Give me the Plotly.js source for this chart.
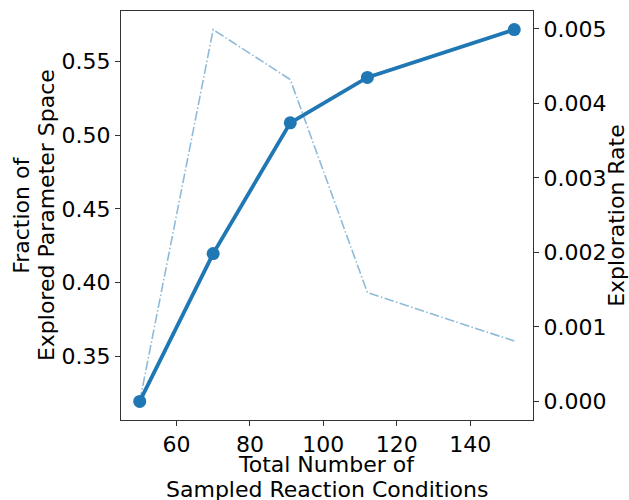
<!DOCTYPE html>
<html>
<head>
<meta charset="utf-8">
<script src="https://cdn.plot.ly/plotly-3.0.1.min.js"></script>
<style>html,body{margin:0;padding:0;background:#fff;}#chart{width:629px;height:500px;}</style>
</head>
<body>
<div id="chart"></div>
<script>
const sampledConditions = [50, 70, 91, 112, 152];
const exploredFraction = [0.3195, 0.4197, 0.5083, 0.5391, 0.5715];
const explorationRate = [0.0, 0.00499, 0.00432, 0.00146, 0.00081];
const xTicks = [60, 80, 100, 120, 140];
const yTicks = [0.35, 0.40, 0.45, 0.50, 0.55];
const y2Ticks = [0.000, 0.001, 0.002, 0.003, 0.004, 0.005];
const xTitleLines = ['Total Number of', 'Sampled Reaction Conditions'];
const yTitleLines = ['Fraction of', 'Explored Parameter Space'];
const y2Title = 'Exploration Rate';

const font = {family: 'DejaVu Sans, sans-serif', size: 22, color: '#000'};

const traces = [
  {
    x: sampledConditions, y: explorationRate, yaxis: 'y2', type: 'scatter', mode: 'lines',
    line: {color: 'rgba(31,119,180,0.5)', width: 1.6, dash: '9.6px,2.4px,1.5px,2.4px'},
    hoverinfo: 'skip', showlegend: false
  },
  {
    x: sampledConditions, y: exploredFraction, type: 'scatter', mode: 'lines+markers',
    line: {color: '#1f77b4', width: 3.8},
    marker: {color: '#1f77b4', size: 13},
    showlegend: false
  }
];

const axisCommon = {
  showgrid: false, zeroline: false, showline: true, linecolor: '#333', linewidth: 1,
  ticks: 'outside', ticklen: 5, tickwidth: 1, tickcolor: '#333',
  tickfont: font, automargin: false
};

const titleAnn = (text, x, y, angle) => ({
  text: text, xref: 'paper', yref: 'paper', x: x, y: y,
  xanchor: 'center', yanchor: 'middle', showarrow: false, textangle: angle,
  font: font, borderpad: 0
});

const layout = {
  width: 629, height: 500,
  margin: {l: 121, r: 96, t: 11, b: 80},
  paper_bgcolor: '#fff', plot_bgcolor: '#fff',
  font: font,
  showlegend: false,
  xaxis: Object.assign({}, axisCommon, {
    range: [44.9, 157.1], tickvals: xTicks, ticktext: xTicks.map(String),
    mirror: true
  }),
  yaxis: Object.assign({}, axisCommon, {
    range: [0.3069, 0.5841], tickvals: yTicks, ticktext: yTicks.map(v => v.toFixed(2))
  }),
  yaxis2: Object.assign({}, axisCommon, {
    overlaying: 'y', side: 'right',
    range: [-0.00025, 0.00524], tickvals: y2Ticks, ticktext: y2Ticks.map(v => v.toFixed(3)),
    title: {text: y2Title, font: font, standoff: 6}
  }),
  annotations: [
    titleAnn(xTitleLines[0], 0.4988, -0.1076, 0),
    titleAnn(xTitleLines[1], 0.4988, -0.1711, 0),
    titleAnn(yTitleLines[0], -0.2434, 0.501, -90),
    titleAnn(yTitleLines[1], -0.1820, 0.501, -90)
  ]
};

Plotly.newPlot('chart', traces, layout, {displayModeBar: false, staticPlot: true});
</script>
</body>
</html>
